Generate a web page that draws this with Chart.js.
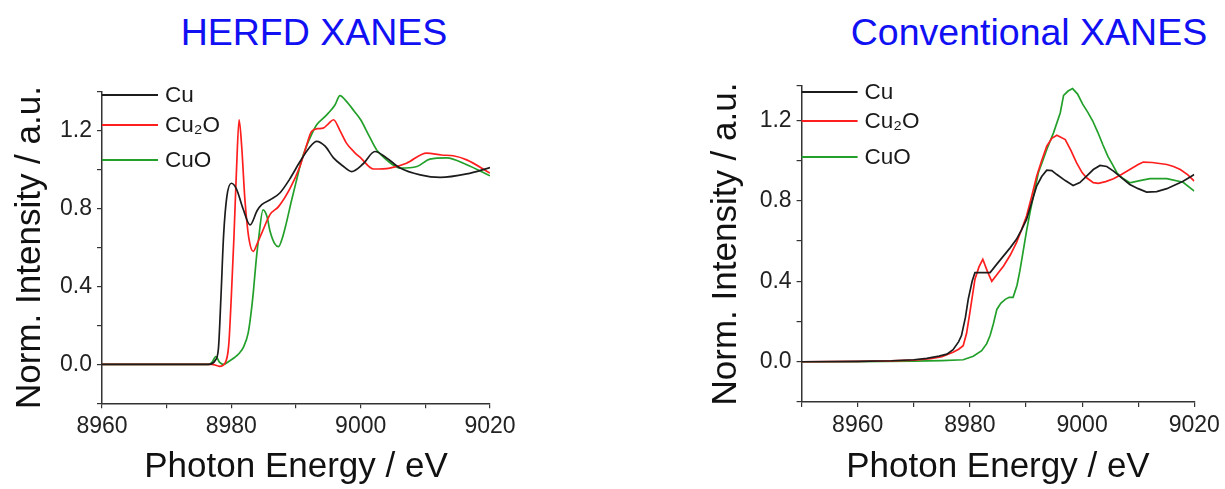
<!DOCTYPE html>
<html>
<head>
<meta charset="utf-8">
<script src="https://cdn.jsdelivr.net/npm/chart.js@4.4.1/dist/chart.umd.min.js"></script>
<style>
    body { margin: 0; width: 1225px; height: 489px; background: #fff; position: relative; overflow: hidden; font-family: 'Liberation Sans', Arial, sans-serif; }
    .plot-title { position: absolute; top: 11px; font-size: 37.5px; color: #1010f2; white-space: nowrap; transform: translateX(-50%); }
    .plot-box { position: absolute; top: 0; height: 489px; }
</style>
</head>
<body>
<div class="plot-title" style="left: 314px">HERFD XANES</div>
<div class="plot-title" style="left: 1029px">Conventional XANES</div>
<div class="plot-box" style="left: 0; width: 600px"><canvas id="herfdChart"></canvas></div>
<div class="plot-box" style="left: 696px; width: 529px"><canvas id="convChart"></canvas></div>
<script>
const FONT = "'Liberation Sans', Arial, sans-serif";
const SERIES_LABELS = ['Cu', 'Cu\u2082O', 'CuO'];
const SERIES_COLORS = ['#1c1c1c', '#ff1e1e', '#22a02a'];

// HERFD XANES (left)
const herfdXTicks = [8960, 8970, 8980, 8990, 9000, 9010, 9020];
const herfdXLabels = [8960, 8980, 9000, 9020];
const herfdYTicks = [-0.2, 0, 0.2, 0.4, 0.6, 0.8, 1.0, 1.2, 1.4];

const herfdCuE = [8960, 8970, 8976.5, 8977.5, 8978.0, 8978.4, 8978.8, 8979.3, 8980.0, 8980.8, 8981.8, 8982.9, 8984.0, 8984.7, 8986.0, 8987.5, 8989.0, 8990.6, 8992.0, 8993.2, 8994.5, 8995.8, 8997.2, 8998.6, 9000.4, 9002.2, 9004.0, 9006.1, 9009.2, 9012.3, 9016.4, 9020];
const herfdCuI = [0, 0, 0, 0.02, 0.08, 0.35, 0.66, 0.86, 0.93, 0.90, 0.80, 0.716, 0.79, 0.82, 0.845, 0.88, 0.95, 1.04, 1.11, 1.145, 1.12, 1.06, 1.02, 0.99, 1.03, 1.093, 1.06, 1.008, 0.973, 0.96, 0.978, 1.01];

const herfdCu2OE = [8960, 8970, 8977, 8978.2, 8979.0, 8979.6, 8980.0, 8980.4, 8980.8, 8981.2, 8981.6, 8982.1, 8982.7, 8983.4, 8984.0, 8984.7, 8986.0, 8987.3, 8989.1, 8990.6, 8991.5, 8992.4, 8993.3, 8994.2, 8995.0, 8995.8, 8996.8, 8997.8, 8999.0, 9000.0, 9002.0, 9004.5, 9007.1, 9010.2, 9012.5, 9014.3, 9016.4, 9020];
const herfdCu2OI = [0, 0, 0, -0.01, 0.005, 0.10, 0.35, 0.65, 1.0, 1.256, 1.12, 0.845, 0.65, 0.58, 0.62, 0.674, 0.77, 0.81, 0.905, 1.016, 1.11, 1.196, 1.21, 1.213, 1.235, 1.256, 1.2, 1.136, 1.09, 1.06, 1.003, 1.008, 1.033, 1.085, 1.075, 1.071, 1.05, 0.982];

const herfdCuOE = [8960, 8970, 8976.5, 8977.0, 8977.6, 8978.2, 8978.8, 8979.6, 8980.5, 8981.3, 8981.9, 8982.6, 8983.0, 8983.4, 8983.8, 8984.2, 8984.9, 8985.5, 8986.0, 8986.7, 8987.3, 8987.9, 8988.5, 8989.3, 8990.1, 8990.8, 8991.6, 8992.4, 8993.2, 8994.1, 8995.0, 8996.0, 8996.8, 8997.8, 8999.0, 9000.0, 9001.2, 9002.5, 9004.0, 9006.1, 9008.7, 9010.7, 9013.3, 9016.4, 9020];
const herfdCuOI = [0, 0, 0, 0.01, 0.04, 0.01, 0.0, 0.015, 0.035, 0.06, 0.09, 0.16, 0.25, 0.37, 0.52, 0.64, 0.793, 0.76, 0.682, 0.62, 0.605, 0.65, 0.725, 0.84, 0.948, 1.04, 1.119, 1.18, 1.23, 1.26, 1.29, 1.33, 1.38, 1.35, 1.30, 1.256, 1.18, 1.10, 1.05, 1.008, 1.016, 1.054, 1.06, 1.025, 0.968];

// Conventional XANES (right)
const convXTicks = [8950, 8960, 8970, 8980, 8990, 9000, 9010, 9020];
const convXLabels = [8960, 8980, 9000, 9020];
const convYTicks = [-0.2, 0, 0.2, 0.4, 0.6, 0.8, 1.0, 1.2, 1.37];

const convCuE = [8950, 8960, 8966, 8970, 8972.3, 8974.5, 8975.9, 8977.0, 8978.0, 8978.5, 8979.2, 8979.7, 8980.4, 8980.9, 8982.0, 8983.6, 8984.8, 8986.0, 8987.2, 8988.3, 8989.2, 8990.1, 8991.0, 8991.9, 8992.8, 8993.7, 8994.6, 8995.5, 8997.0, 8998.4, 8999.6, 9000.8, 9002.0, 9003.2, 9004.4, 9005.6, 9007.0, 9008.5, 9010.0, 9011.5, 9013.3, 9015.1, 9018.0, 9020];
const convCuI = [0, 0.002, 0.005, 0.01, 0.017, 0.028, 0.038, 0.06, 0.10, 0.13, 0.22, 0.31, 0.40, 0.443, 0.443, 0.443, 0.485, 0.526, 0.567, 0.608, 0.655, 0.707, 0.79, 0.873, 0.92, 0.952, 0.95, 0.93, 0.90, 0.876, 0.89, 0.922, 0.955, 0.975, 0.97, 0.947, 0.915, 0.881, 0.86, 0.843, 0.845, 0.86, 0.897, 0.93];

const convCu2OE = [8950, 8960, 8966, 8970, 8973, 8975, 8977.0, 8978.0, 8978.8, 8979.4, 8980.0, 8980.9, 8981.6, 8982.3, 8983.1, 8983.9, 8985.0, 8986.0, 8987.2, 8988.3, 8989.2, 8990.1, 8991.0, 8991.9, 8992.8, 8993.7, 8994.6, 8995.5, 8997.0, 8998.0, 8999.0, 9000.0, 9000.8, 9002.0, 9002.9, 9004.2, 9005.6, 9007.0, 9008.5, 9010.0, 9010.9, 9012.5, 9015.1, 9016.3, 9017.5, 9018.8, 9020];
const convCu2OI = [0, 0.002, 0.004, 0.008, 0.015, 0.025, 0.047, 0.062, 0.08, 0.14, 0.245, 0.41, 0.47, 0.509, 0.45, 0.40, 0.44, 0.476, 0.53, 0.592, 0.655, 0.724, 0.82, 0.922, 1.0, 1.071, 1.11, 1.125, 1.104, 1.05, 0.989, 0.94, 0.914, 0.89, 0.886, 0.895, 0.909, 0.93, 0.955, 0.98, 0.992, 0.99, 0.98, 0.97, 0.955, 0.93, 0.897];

const convCuOE = [8950, 8960, 8970, 8975, 8978.8, 8980.6, 8982.1, 8983.0, 8983.6, 8984.2, 8984.8, 8985.5, 8986.3, 8987.0, 8987.7, 8988.4, 8988.9, 8989.5, 8990.1, 8990.7, 8991.3, 8992.2, 8993.0, 8993.7, 8994.9, 8996.1, 8996.7, 8997.5, 8998.3, 8999.2, 9000.1, 9001.0, 9001.9, 9002.8, 9003.7, 9004.6, 9005.5, 9006.2, 9007.3, 9008.5, 9010.3, 9012.1, 9015.1, 9018.0, 9020];
const convCuOI = [0, 0, 0.003, 0.006, 0.01, 0.027, 0.055, 0.09, 0.13, 0.19, 0.26, 0.29, 0.31, 0.32, 0.32, 0.38, 0.45, 0.55, 0.65, 0.74, 0.82, 0.939, 1.0, 1.055, 1.137, 1.236, 1.323, 1.345, 1.357, 1.33, 1.28, 1.24, 1.196, 1.14, 1.078, 1.02, 0.976, 0.939, 0.91, 0.889, 0.9, 0.91, 0.91, 0.892, 0.848];

Chart.defaults.font.family = FONT;

// legend drawn at the top-left corner of the plot, lines starting on the y axis
const sideLegend = {
    id: 'sideLegend',
    afterDatasetsDraw(chart, args, opts) {
        const { ctx, chartArea } = chart;
        ctx.save();
        ctx.font = `22.5px ${FONT}`;
        ctx.textBaseline = 'middle';
        chart.data.datasets.forEach((ds, i) => {
            const y = chartArea.top + opts.rows[i];
            ctx.strokeStyle = ds.borderColor;
            ctx.lineWidth = 2;
            ctx.beginPath();
            ctx.moveTo(chartArea.left, y);
            ctx.lineTo(chartArea.left + opts.lineLength, y);
            ctx.stroke();
            ctx.fillStyle = '#1a1a1a';
            ctx.fillText(ds.label, chartArea.left + opts.lineLength + 7, y + 1);
        });
        ctx.restore();
    }
};

function toPoints(xs, ys) {
    return xs.map((x, i) => ({ x, y: ys[i] }));
}

function makeDatasets(pairs, smooth) {
    return pairs.map(([xs, ys], i) => ({
        label: SERIES_LABELS[i],
        data: toPoints(xs, ys),
        borderColor: SERIES_COLORS[i],
        borderWidth: 1.7,
        pointRadius: 0,
        fill: false,
        tension: smooth ? 0.4 : 0,
        cubicInterpolationMode: smooth ? 'monotone' : 'default'
    }));
}

function createXanesChart(canvasId, cfg) {
    return new Chart(document.getElementById(canvasId), {
        type: 'line',
        data: { datasets: makeDatasets(cfg.series, cfg.smooth) },
        options: {
            responsive: true,
            maintainAspectRatio: false,
            animation: false,
            layout: { padding: cfg.padding },
            plugins: {
                legend: { display: false },
                tooltip: { enabled: false },
                sideLegend: { rows: cfg.legendRows, lineLength: 56 }
            },
            scales: {
                x: {
                    type: 'linear',
                    min: cfg.xTicks[0],
                    max: cfg.xTicks[cfg.xTicks.length - 1],
                    afterBuildTicks: (scale) => { scale.ticks = cfg.xTicks.map((v) => ({ value: v })); },
                    afterFit: (scale) => { scale.height = cfg.xHeight; },
                    border: { color: '#333', width: 1.5 },
                    grid: { drawOnChartArea: false, tickLength: 5, color: '#333', lineWidth: 1.2 },
                    ticks: {
                        padding: 5,
                        color: '#222',
                        font: { size: 23 },
                        maxRotation: 0,
                        autoSkip: false,
                        callback: (value) => cfg.xLabels.includes(value) ? String(value) : ''
                    },
                    title: { display: true, text: 'Photon Energy / eV', color: '#111', font: { size: 35 }, padding: { top: 0, bottom: 1 } }
                },
                y: {
                    type: 'linear',
                    min: -0.2,
                    max: cfg.yTicks[cfg.yTicks.length - 1],
                    afterBuildTicks: (scale) => { scale.ticks = cfg.yTicks.map((v) => ({ value: v })); },
                    afterFit: (scale) => { scale.width = cfg.yWidth; },
                    border: { color: '#333', width: 1.5 },
                    grid: { drawOnChartArea: false, tickLength: 5, color: '#333', lineWidth: 1.2 },
                    ticks: {
                        padding: 5,
                        color: '#222',
                        font: { size: 23 },
                        autoSkip: false,
                        callback: (value) => {
                            const tenths = Math.round(value * 10);
                            return (tenths % 4 === 0 && Math.abs(value * 10 - tenths) < 1e-6) ? value.toFixed(1) : '';
                        }
                    },
                    title: { display: true, text: 'Norm. Intensity / a.u.', color: '#111', font: { size: 35 }, padding: { top: 9, bottom: 0 } }
                }
            }
        },
        plugins: [sideLegend]
    });
}

createXanesChart('herfdChart', {
    series: [[herfdCuE, herfdCuI], [herfdCu2OE, herfdCu2OI], [herfdCuOE, herfdCuOI]],
    smooth: true,
    xTicks: herfdXTicks,
    xLabels: herfdXLabels,
    yTicks: herfdYTicks,
    padding: { left: 0, top: 91.7, right: 110, bottom: 0 },
    yWidth: 102,
    xHeight: 85.7,
    legendRows: [3.3, 33.3, 68.3]
});

createXanesChart('convChart', {
    series: [[convCuE, convCuI], [convCu2OE, convCu2OI], [convCuOE, convCuOI]],
    smooth: false,
    xTicks: convXTicks,
    xLabels: convXLabels,
    yTicks: convYTicks,
    padding: { left: 0, top: 86, right: 30.7, bottom: 0 },
    yWidth: 105.6,
    xHeight: 87,
    legendRows: [6, 35, 71]
});
</script>
</body>
</html>
